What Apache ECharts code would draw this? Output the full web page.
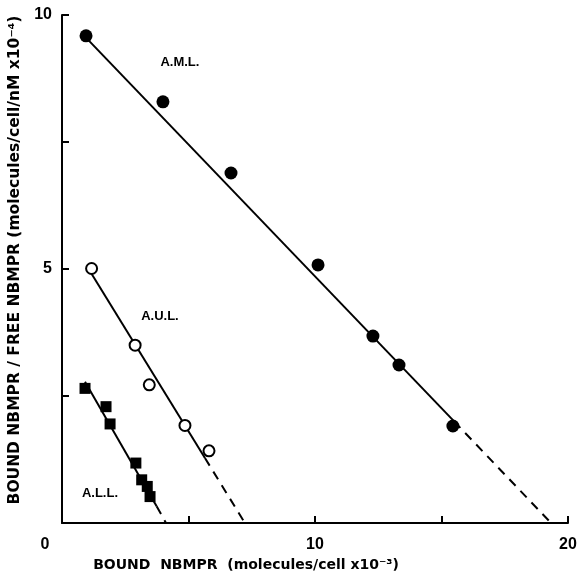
<!DOCTYPE html>
<html>
<head>
<meta charset="utf-8">
<script src="https://cdn.jsdelivr.net/npm/echarts@6/dist/echarts.min.js"></script>
<style>
  html, body { margin: 0; padding: 0; background: #fff; }
  #chart { width: 588px; height: 571px; }
</style>
</head>
<body>
<div id="chart"></div>
<script>
// data
var amlPoints = [[0.95, 9.59], [3.99, 8.29], [6.68, 6.89], [10.12, 5.08], [12.29, 3.68], [13.32, 3.11], [15.45, 1.91]];
var aulPoints = [[1.17, 5.01], [2.89, 3.5], [3.45, 2.72], [4.86, 1.92], [5.81, 1.42]];
var allPoints = [[0.91, 2.65], [1.74, 2.29], [1.9, 1.95], [2.92, 1.18], [3.15, 0.85], [3.37, 0.72], [3.48, 0.52]];

// fitted lines (solid part, dashed extrapolation)
var amlFit = [[0.9, 9.58], [15.5, 2.0]];
var amlExt = [[15.5, 2.0], [19.33, 0]];
var aulFit = [[1.04, 5.01], [5.65, 1.28]];
var aulExt = [[5.65, 1.28], [7.23, 0]];
var allFit = [[0.91, 2.78], [3.74, 0.33]];
var allExt = [[3.74, 0.33], [4.11, 0]];

var groupLabels = [
  { name: "A.M.L.", value: [4.66, 9.07] },
  { name: "A.U.L.", value: [3.87, 4.07] },
  { name: "A.L.L.", value: [1.5, 0.59] }
];

var xTickLabels = [0, 10, 20];
var yTickLabels = [5, 10];

var chart = echarts.init(document.getElementById("chart"));

function lineSeries(data, dashed) {
  return {
    type: "line",
    data: data,
    showSymbol: false,
    symbol: "none",
    silent: true,
    z: 1,
    lineStyle: {
      color: "#000",
      width: 2,
      type: dashed ? [9, 7] : "solid"
    }
  };
}

var axisFont = {
  color: "#000",
  fontSize: 16,
  fontWeight: "bold",
  fontFamily: "Liberation Sans"
};

chart.setOption({
  animation: false,
  backgroundColor: "#fff",
  grid: { left: 62, right: 20, top: 15, bottom: 48, containLabel: false, outerBoundsMode: "none" },
  xAxis: {
    type: "value",
    min: 0,
    max: 20,
    interval: 5,
    name: "BOUND  NBMPR  (molecules/cell x10\u207B\u00B3)",
    nameLocation: "middle",
    nameGap: 34,
    nameTextStyle: {
      color: "#000",
      fontSize: 14,
      fontWeight: "bold",
      fontFamily: "DejaVu Sans",
      padding: [0, 138, 0, 0]
    },
    axisLine: { lineStyle: { color: "#000", width: 2 } },
    axisTick: { inside: true, length: 7, lineStyle: { color: "#000", width: 2 } },
    splitLine: { show: false },
    axisLabel: Object.assign({}, axisFont, {
      margin: 14,
      formatter: function (v) {
        if (v === 0) return "{z|0}";
        return xTickLabels.indexOf(v) >= 0 ? String(v) : "";
      },
      rich: {
        z: { fontSize: 16, fontWeight: "bold", fontFamily: "Liberation Sans", padding: [0, 34, 0, 0] }
      }
    })
  },
  yAxis: {
    type: "value",
    min: 0,
    max: 10,
    interval: 2.5,
    name: "BOUND NBMPR / FREE NBMPR (molecules/cell/nM x10\u207B\u2074)",
    nameLocation: "middle",
    nameGap: 32,
    nameTextStyle: {
      color: "#000",
      fontSize: 15.5,
      fontWeight: "bold",
      fontFamily: "DejaVu Sans",
      padding: [0, 0, 0, 18]
    },
    axisLine: { show: true, lineStyle: { color: "#000", width: 2 } },
    axisTick: { show: true, inside: true, length: 7, lineStyle: { color: "#000", width: 2 } },
    splitLine: { show: false },
    axisLabel: Object.assign({}, axisFont, {
      margin: 10,
      formatter: function (v) {
        return yTickLabels.indexOf(v) >= 0 ? String(v) : "";
      }
    })
  },
  series: [
    lineSeries(amlFit, false),
    lineSeries(amlExt, true),
    lineSeries(aulFit, false),
    lineSeries(aulExt, true),
    lineSeries(allFit, false),
    lineSeries(allExt, true),
    {
      type: "scatter",
      data: amlPoints,
      symbol: "circle",
      symbolSize: 13,
      z: 3,
      itemStyle: { color: "#000", opacity: 1 }
    },
    {
      type: "scatter",
      data: aulPoints,
      symbol: "circle",
      symbolSize: 11,
      z: 3,
      itemStyle: { color: "#fff", borderColor: "#000", borderWidth: 2, opacity: 1 }
    },
    {
      type: "scatter",
      data: allPoints,
      symbol: "rect",
      symbolSize: 11,
      z: 3,
      itemStyle: { color: "#000", opacity: 1 }
    },
    {
      type: "scatter",
      data: groupLabels,
      symbolSize: 0,
      silent: true,
      z: 4,
      itemStyle: { opacity: 1 },
      label: {
        show: true,
        position: "inside",
        formatter: "{b}",
        color: "#000",
        fontSize: 13,
        fontWeight: "bold",
        fontFamily: "Liberation Sans"
      }
    }
  ]
});
</script>
</body>
</html>
